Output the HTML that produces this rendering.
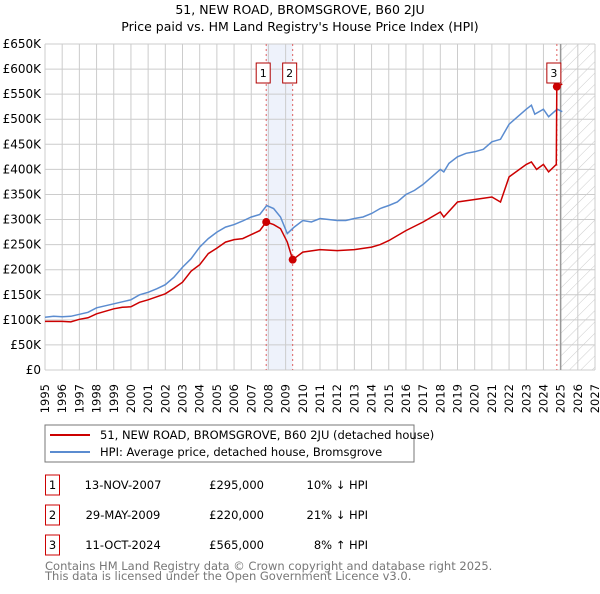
<!DOCTYPE html>
<html><head><meta charset="utf-8"><style>
body{margin:0;background:#fff;font-family:"DejaVu Sans","Liberation Sans",sans-serif;}
svg text{font-family:"DejaVu Sans","Liberation Sans",sans-serif;}
</style></head><body>
<svg id="c" width="600" height="590" viewBox="0 0 600 590" xmlns="http://www.w3.org/2000/svg">
<defs><pattern id="hatch" width="8" height="8" patternUnits="userSpaceOnUse" patternTransform="rotate(45)"><line x1="0" y1="0" x2="0" y2="8" stroke="#ccc" stroke-width="1"/></pattern></defs>
<text x="300" y="14" text-anchor="middle" font-size="12.5">51, NEW ROAD, BROMSGROVE, B60 2JU</text>
<text x="300" y="31" text-anchor="middle" font-size="12.5">Price paid vs. HM Land Registry's House Price Index (HPI)</text>
<g id="grid"></g><g id="marks"></g><g id="axes"></g>
<rect x="45" y="425" width="369" height="37" fill="#fff" stroke="#777"/>
<line x1="50" y1="435" x2="90" y2="435" stroke="#cc0000" stroke-width="2"/>
<text x="100" y="439" font-size="11.5">51, NEW ROAD, BROMSGROVE, B60 2JU (detached house)</text>
<line x1="50" y1="452" x2="90" y2="452" stroke="#5b8cd0" stroke-width="2"/>
<text x="100" y="456" font-size="11.5">HPI: Average price, detached house, Bromsgrove</text>
<g id="table" font-size="11.5"></g>
<text x="45" y="570" font-size="11.5" fill="#777">Contains HM Land Registry data © Crown copyright and database right 2025.</text>
<text x="45" y="580" font-size="11.5" fill="#777">This data is licensed under the Open Government Licence v3.0.</text>
</svg>
<script>
const hpiYears=[1995,1995.5,1996,1996.5,1997,1997.5,1998,1998.5,1999,1999.5,2000,2000.5,2001,2001.5,2002,2002.5,2003,2003.5,2004,2004.5,2005,2005.5,2006,2006.5,2007,2007.5,2007.9,2008.3,2008.7,2009.1,2009.5,2010,2010.5,2011,2011.5,2012,2012.5,2013,2013.5,2014,2014.5,2015,2015.5,2016,2016.5,2017,2017.5,2018,2018.2,2018.5,2019,2019.5,2020,2020.5,2021,2021.5,2022,2022.5,2023,2023.3,2023.5,2024,2024.3,2024.8,2025.1];
const hpiValues=[105,107,106,107,111,115,124,128,132,136,140,150,155,162,170,185,205,222,245,262,275,285,290,297,305,310,328,322,305,272,285,298,295,302,300,298,298,302,305,312,322,328,335,350,358,370,385,400,395,412,425,432,435,440,455,460,490,505,520,528,510,520,505,520,515];
const redYears=[1995,1996,1996.5,1997,1997.5,1998,1998.5,1999,1999.5,2000,2000.5,2001,2001.5,2002,2002.5,2003,2003.5,2004,2004.5,2005,2005.5,2006,2006.5,2007,2007.5,2007.87,2008.3,2008.7,2009.1,2009.41,2010,2011,2012,2013,2014,2014.5,2015,2016,2017,2018,2018.2,2019,2020,2021,2021.5,2022,2023,2023.3,2023.6,2024,2024.3,2024.75,2024.78,2025.1];
const redValues=[97,97,96,101,104,112,117,122,125,126,135,140,146,152,163,175,197,210,232,243,255,260,262,270,278,295,290,282,255,220,235,240,238,240,245,250,258,278,295,315,305,335,340,345,335,385,410,415,400,410,395,410,565,570];
const sales=[{n:'1',x:2007.87,v:295,d:'13-NOV-2007',p:'£295,000',h:'10% ↓ HPI'},{n:'2',x:2009.41,v:220,d:'29-MAY-2009',p:'£220,000',h:'21% ↓ HPI'},{n:'3',x:2024.78,v:565,d:'11-OCT-2024',p:'£565,000',h:'8% ↑ HPI'}];
const yTicks=[0,50,100,150,200,250,300,350,400,450,500,550,600,650];
const xTicks=[1995,1996,1997,1998,1999,2000,2001,2002,2003,2004,2005,2006,2007,2008,2009,2010,2011,2012,2013,2014,2015,2016,2017,2018,2019,2020,2021,2022,2023,2024,2025,2026,2027];
const X0=45,X1=595,Y0=370,Y1=44;
const xs=y=>X0+(y-1995)/(2027-1995)*(X1-X0);
const ys=v=>Y0-v/650*(Y0-Y1);
const NS='http://www.w3.org/2000/svg';
function mk(p,t,a){const e=document.createElementNS(NS,t);for(const k in a)e.setAttribute(k,a[k]);document.getElementById(p).appendChild(e);return e;}
let e=mk('grid','rect',{x:xs(2007.87),y:Y1,width:xs(2009.41)-xs(2007.87),height:Y0-Y1,fill:'#eef2fb'});


e=mk('grid','rect',{x:xs(2025),y:Y1,width:X1-xs(2025),height:Y0-Y1,fill:'url(#hatch)'});


yTicks.forEach(v=>{
 e=mk('grid','line',{x1:X0,x2:X1,y1:ys(v),y2:ys(v),stroke:'#ccc','stroke-width':1});
 
 
 e=mk('axes','text',{x:X0-4,y:ys(v)+4,'text-anchor':'end','font-size':'12'});
 e.textContent=v===0?'£0':'£'+v+'K';
 
 
});
xTicks.forEach(y=>{
 e=mk('grid','line',{x1:xs(y),x2:xs(y),y1:Y1,y2:Y0,stroke:'#ccc','stroke-width':1});
 
 
 const tx=xs(y)+4, ty=384;
 e=mk('axes','text',{x:tx,y:ty,'text-anchor':'end','font-size':'11.5',transform:'rotate(-90 '+tx+' '+ty+')'});
 e.textContent=y;
 
 
});
e=mk('grid','line',{x1:xs(2025),x2:xs(2025),y1:Y1,y2:Y0,stroke:'#999','stroke-width':1.5});


sales.forEach(s=>{
 e=mk('grid','line',{x1:xs(s.x),x2:xs(s.x),y1:Y1,y2:Y0,stroke:'#e06060','stroke-width':1,'stroke-dasharray':'2,3'});
 
 
});
const pts=(a,b)=>a.map((y,i)=>xs(y).toFixed(1)+','+ys(b[i]).toFixed(1)).join(' ');
e=mk('marks','polyline',{points:pts(hpiYears,hpiValues),fill:'none',stroke:'#5b8cd0','stroke-width':1.5});


e=mk('marks','polyline',{points:pts(redYears,redValues),fill:'none',stroke:'#cc0000','stroke-width':1.5});


sales.forEach((s,i)=>{
 e=mk('marks','circle',{cx:xs(s.x),cy:ys(s.v),r:4,fill:'#cc0000'});
 
 
 const bx=xs(s.x)-10, by=63;
 e=mk('marks','rect',{x:bx,y:by,width:14,height:20,fill:'#fff',stroke:'#b00000'});
 
 
 e=mk('marks','text',{x:bx+7,y:by+14,'text-anchor':'middle','font-size':'11'});
 e.textContent=s.n;
 
 
 const ty=475+i*30;
 e=mk('table','rect',{x:45.5,y:ty,width:14,height:20,fill:'#fff',stroke:'#cc0000'});
 
 
 e=mk('table','text',{x:52.5,y:ty+14,'text-anchor':'middle'});e.textContent=s.n;
 
 
 e=mk('table','text',{x:123,y:ty+14,'text-anchor':'middle'});e.textContent=s.d;
 
 
 e=mk('table','text',{x:264,y:ty+14,'text-anchor':'end'});e.textContent=s.p;
 
 
 e=mk('table','text',{x:368,y:ty+14,'text-anchor':'end'});e.textContent=s.h;
 
 
});
</script>
</body></html>
